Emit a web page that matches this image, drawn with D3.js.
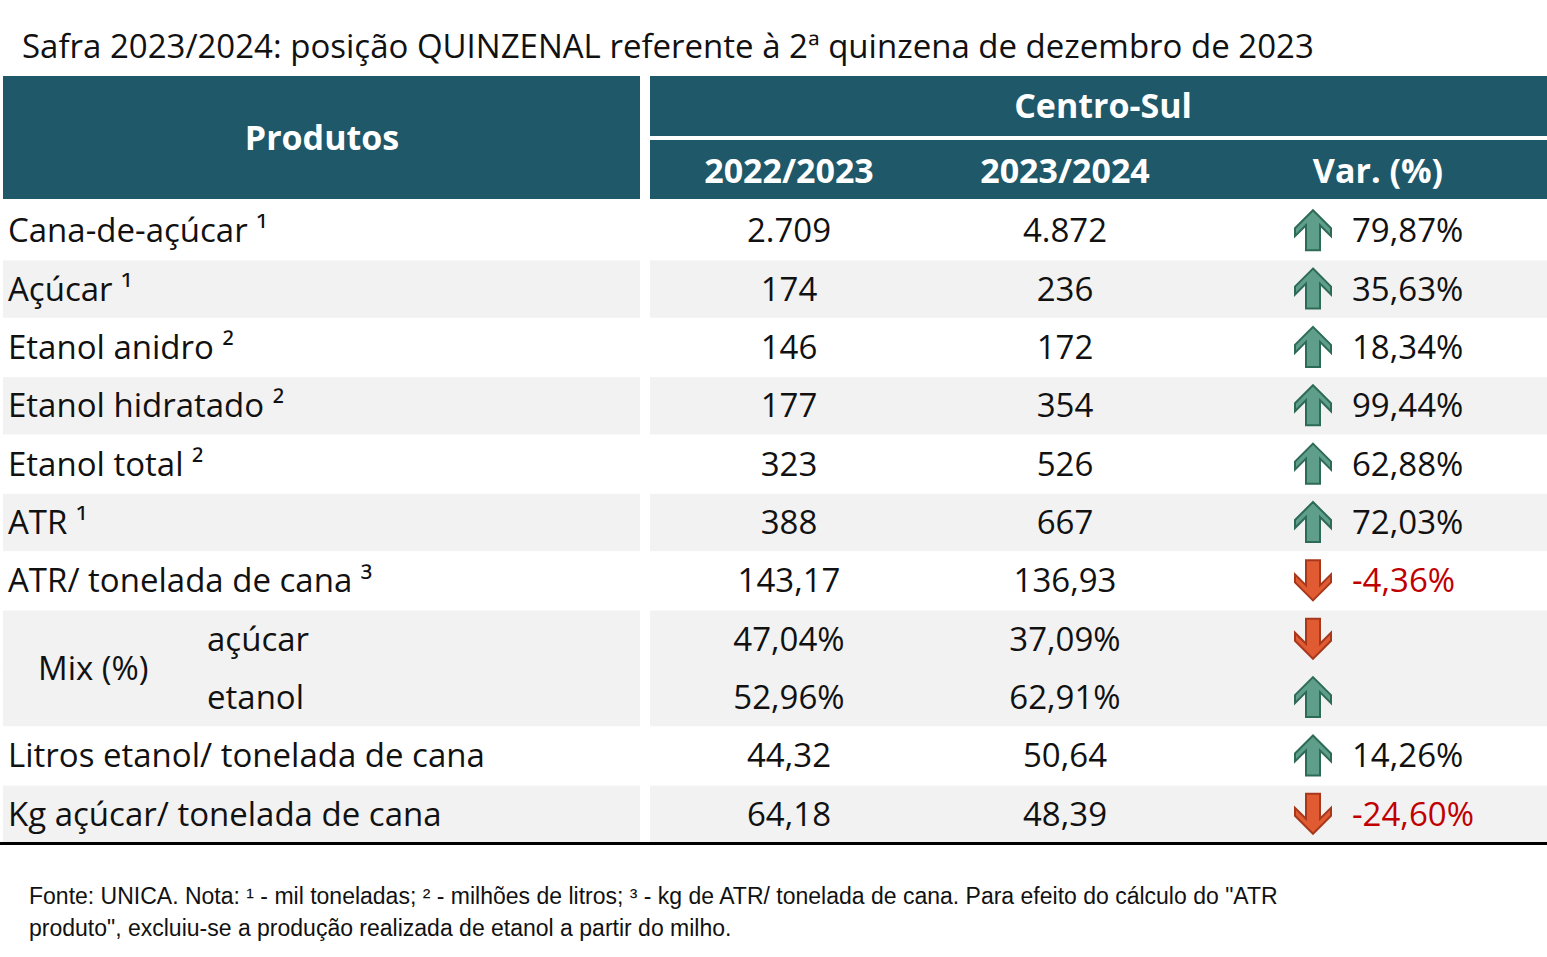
<!DOCTYPE html>
<html><head><meta charset="utf-8">
<script src="https://cdn.jsdelivr.net/npm/d3@7"></script>
<style>body{margin:0;background:#fff}</style></head>
<body><svg id="c" width="1547" height="957"></svg>
<script>
const title = "Safra 2023/2024: posição QUINZENAL referente à 2ª quinzena de dezembro de 2023";
const headers = ["2022/2023", "2023/2024", "Var. (%)"];
const labels = ["Cana-de-açúcar ¹","Açúcar ¹","Etanol anidro ²","Etanol hidratado ²","Etanol total ²","ATR ¹","ATR/ tonelada de cana ³","açúcar","etanol","Litros etanol/ tonelada de cana","Kg açúcar/ tonelada de cana"];
const v2022 = ["2.709","174","146","177","323","388","143,17","47,04%","52,96%","44,32","64,18"];
const v2023 = ["4.872","236","172","354","526","667","136,93","37,09%","62,91%","50,64","48,39"];
const varPct = ["79,87%","35,63%","18,34%","99,44%","62,88%","72,03%","-4,36%","","","14,26%","-24,60%"];
const dir = ["up","up","up","up","up","up","down","down","up","up","down"];
const shaded = [0,1,0,1,0,1,0,1,1,0,1];
const note1 = "Fonte: UNICA. Nota: ¹ - mil toneladas; ² - milhões de litros; ³ - kg de ATR/ tonelada de cana. Para efeito do cálculo do \"ATR";
const note2 = "produto\", excluiu-se a produção realizada de etanol a partir do milho.";

const svg = d3.select("#c");
const F = "'Open Sans', sans-serif";
const teal = "#1f5868";
const y = d3.scaleBand().domain(d3.range(labels.length)).range([201, 843]).paddingInner(0);
const h = y.bandwidth();
svg.append("text").attr("x",22).attr("y",58).attr("font-family",F).attr("font-size",33).attr("fill","#111").text(title);
// header
svg.append("rect").attr("x",3).attr("y",76).attr("width",637).attr("height",123).attr("fill",teal);
svg.append("rect").attr("x",650).attr("y",76).attr("width",897).attr("height",60).attr("fill",teal);
svg.append("rect").attr("x",650).attr("y",140).attr("width",897).attr("height",59).attr("fill",teal);
const hd = (x,yy,t)=>svg.append("text").attr("x",x).attr("y",yy).attr("text-anchor","middle").attr("font-family",F).attr("font-weight",700).attr("font-size",34).attr("fill","#fff").text(t);
hd(322,150,"Produtos"); hd(1103,118,"Centro-Sul");
const cx = [789,1065,1378];
headers.forEach((t,i)=>hd(cx[i],183,t));
// bands
labels.forEach((l,i)=>{
  if(shaded[i]){
    svg.append("rect").attr("x",3).attr("y",y(i)+1).attr("width",637).attr("height",h-1).attr("fill","#f2f2f2");
    svg.append("rect").attr("x",650).attr("y",y(i)+1).attr("width",897).attr("height",h-1).attr("fill","#f2f2f2");
  }
});
svg.append("rect").attr("x",3).attr("y",y(7)+h-2).attr("width",637).attr("height",3).attr("fill","#f2f2f2");
svg.append("rect").attr("x",650).attr("y",y(7)+h-2).attr("width",897).attr("height",3).attr("fill","#f2f2f2");
const txt = (x,yy,t,anchor,fill)=>svg.append("text").attr("x",x).attr("y",yy).attr("text-anchor",anchor).attr("font-family",F).attr("font-size",33).attr("fill",fill||"#111").text(t);
labels.forEach((l,i)=>{
  const yy = y(i)+h/2+12;
  if(i===7||i===8) txt(207,yy,l,"start"); else txt(8,yy,l,"start");
  txt(cx[0],yy,v2022[i],"middle");
  txt(cx[1],yy,v2023[i],"middle");
  if(varPct[i]) txt(1352,yy,varPct[i],"start",varPct[i].startsWith("-")?"#c00000":"#111");
  const ax=1313, ay=y(i)+h/2;
  const up="M0,-20 L18,-2 L18,6 L7,-5 L7,20 L-7,20 L-7,-5 L-18,6 L-18,-2 Z";
  const down="M0,20 L18,2 L18,-6 L7,5 L7,-20 L-7,-20 L-7,5 L-18,-6 L-18,2 Z";
  svg.append("path").attr("d",dir[i]==="up"?up:down).attr("transform",`translate(${ax},${ay})`)
    .attr("fill",dir[i]==="up"?"#5f9e8a":"#e05a32").attr("stroke",dir[i]==="up"?"#2e6b57":"#a8381c").attr("stroke-width",2);
});
txt(38,y(8)+12,"Mix (%)","start");
svg.append("rect").attr("x",0).attr("y",842).attr("width",1547).attr("height",3).attr("fill","#000");
svg.append("text").attr("x",29).attr("y",904).attr("font-family","'Liberation Sans', Arial, sans-serif").attr("font-size",23).attr("fill","#111").text(note1);
svg.append("text").attr("x",29).attr("y",936).attr("font-family","'Liberation Sans', Arial, sans-serif").attr("font-size",23).attr("fill","#111").text(note2);
</script></body></html>
